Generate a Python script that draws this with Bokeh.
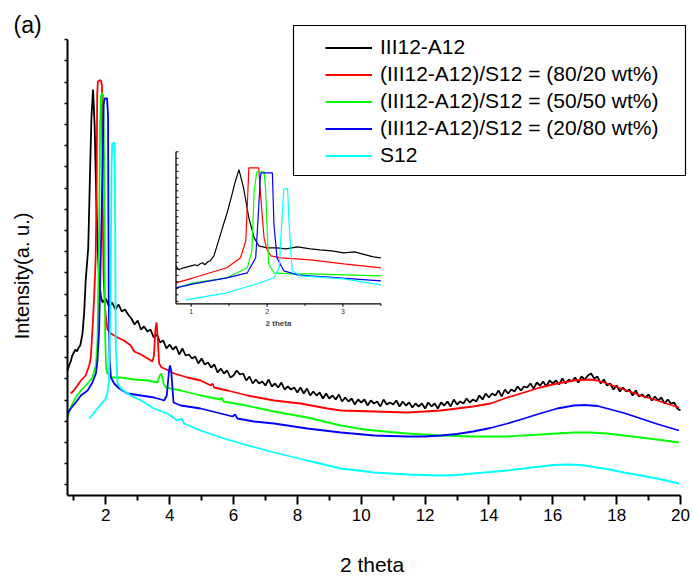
import math
from bokeh.plotting import figure
from bokeh.models import (Range1d, FixedTicker, CustomJSTickFormatter, Legend,
                          LegendItem, BoxAnnotation, Label)
from bokeh.core.properties import value
from bokeh.embed import file_html
from bokeh.resources import INLINE

# ---------------- data (2 theta, intensity a.u.) ----------------
labels = ["III12-A12",
          "(III12-A12)/S12 = (80/20 wt%)",
          "(III12-A12)/S12 = (50/50 wt%)",
          "(III12-A12)/S12 = (20/80 wt%)",
          "S12"]
colors = ["#000000", "#ff0000", "#00ff00", "#0000ff", "#00ffff"]

black_head_x = [0.80, 0.85, 0.90, 0.95, 1.00, 1.05, 1.10, 1.15, 1.20, 1.27, 1.32, 1.37,
                1.45, 1.51, 1.55, 1.60, 1.65, 1.70, 1.75, 1.80, 1.85]
black_head_y = [125, 130, 134, 140, 143, 146, 144, 148, 150, 162, 182, 215,
                248, 328, 378, 406, 370, 298, 245, 212, 198]
black_tail_x = [round(1.9 + 0.1 * i, 1) for i in range(182)]   # scan grid
black_tail_y = [193,
                197, 189, 193, 186, 191, 184, 186, 181, 177, 171,
                175, 166, 169, 164, 166, 158, 161, 153, 155, 147,
                151, 146, 149, 141, 147, 140, 141, 137, 139, 132,
                137, 131, 133, 128, 131, 123, 127, 122, 125, 118,
                120, 125, 121, 122, 115, 119, 112, 116, 112, 114,
                110, 116, 109, 112, 108, 113, 106, 109, 106, 108,
                103, 108, 102, 107, 100, 104, 100, 103, 97, 102,
                97, 100, 96, 101, 94, 98, 94, 97, 91, 96,
                93, 96, 90, 95, 92, 94, 89, 96, 91, 93,
                91, 95, 89, 94, 90, 93, 88, 92, 89, 92,
                87, 93, 89, 92, 87, 93, 90, 94, 89, 96,
                91, 94, 92, 97, 93, 96, 94, 100, 96, 102,
                98, 102, 100, 105, 99, 106, 102, 106, 104, 109,
                105, 109, 108, 112, 107, 113, 110, 114, 109, 115,
                112, 115, 111, 117, 112, 116, 114, 118, 113, 119,
                116, 120, 122, 117, 119, 112, 116, 110, 112, 106,
                110, 104, 108, 104, 106, 100, 105, 99, 101, 98,
                101, 95, 99, 95, 98, 92, 96, 92, 93, 87,
                85]
black_x = black_head_x + black_tail_x
black_y = black_head_y + black_tail_y

red_x = [0.90, 1.00, 1.22, 1.37, 1.48, 1.53, 1.58, 1.63, 1.68, 1.71, 1.73, 1.75, 1.80, 1.85,
         1.88, 1.90, 1.93, 1.97, 2.00, 2.05, 2.16, 2.37, 2.57, 2.78, 2.89, 3.10, 3.31, 3.46,
         3.51, 3.55, 3.59, 3.63, 3.67, 3.75, 3.83, 4.14, 4.56, 4.97, 5.29, 5.34, 5.39, 5.81,
         6.44, 7.27, 8.10, 8.94, 9.36, 9.9, 10.4, 10.9, 11.45, 12.0, 12.49, 13.0, 13.5, 14.05,
         14.58, 15.1, 15.6, 16.14, 16.66, 17.13, 17.4, 17.7, 18.23, 18.75, 19.27, 19.95]
red_y = [102, 105, 115, 120, 130, 138, 165, 195, 235, 300, 400, 414, 415, 415,
         410, 300, 220, 190, 180, 166, 162, 158, 155, 150, 144, 141, 137, 134,
         140, 165, 173, 155, 132, 128, 127, 122, 118, 115, 110, 112, 108, 105,
         100, 95, 92, 87, 85, 84.5, 84, 83.5, 83, 84, 85, 87, 89, 92,
         98, 103, 108, 112, 115, 116, 115, 112, 106, 100, 95, 88]

green_x = [0.80, 0.90, 1.06, 1.22, 1.43, 1.58, 1.69, 1.74, 1.79, 1.82, 1.85, 1.88, 1.92, 1.95,
           1.98, 2.01, 2.05, 2.21, 2.47, 2.89, 3.31, 3.62, 3.69, 3.74, 3.81, 3.88, 4.35, 4.97,
           5.60, 5.63, 5.68, 6.23, 7.27, 8.31, 9.36, 9.9, 10.4, 10.9, 11.45, 12.49, 13.5,
           14.58, 15.6, 16.14, 16.66, 17.18, 17.7, 18.23, 18.75, 19.27, 19.95]
green_y = [78, 88, 98, 105, 112, 118, 130, 155, 260, 370, 400, 402, 401, 330,
           160, 128, 122, 118, 118, 116, 115, 113, 120, 122, 112, 108, 105, 100,
           96, 98, 94, 91, 84, 78, 70, 67, 65, 63.5, 62, 60, 59,
           59, 61, 62, 63, 63, 62, 60, 58, 56, 53]

blue_x = [0.80, 0.90, 1.06, 1.22, 1.43, 1.58, 1.69, 1.74, 1.79, 1.85, 1.90, 1.93, 1.96, 2.04,
          2.07, 2.09, 2.12, 2.16, 2.26, 2.42, 2.68, 3.10, 3.51, 3.83, 3.91, 3.98, 4.01, 4.05,
          4.12, 4.35, 4.97, 5.60, 5.97, 6.05, 6.12, 6.64, 7.27, 8.31, 9.36, 9.9, 10.4, 10.9,
          11.45, 12.0, 12.49, 13.0, 13.5, 14.05, 14.58, 15.1, 15.6, 16.14, 16.66, 17.0, 17.4,
          17.7, 18.23, 18.75, 19.27, 19.95]
blue_y = [82, 87, 93, 100, 105, 113, 122, 135, 165, 250, 328, 390, 397, 397,
          380, 200, 135, 118, 112, 107, 102, 100, 98, 95, 100, 125, 130, 124,
          93, 90, 87, 82, 79, 81, 77, 74, 72, 67, 63, 61.5, 60, 59.5,
          59, 59, 60, 61.5, 64, 67.5, 72, 77, 82, 87, 90, 90.5, 89.5,
          87, 82.5, 77, 71.5, 65]

cyan_x = [1.48, 1.74, 2.00, 2.05, 2.10, 2.15, 2.18, 2.20, 2.27, 2.29, 2.31, 2.37, 2.47, 2.78,
          3.10, 3.51, 3.93, 4.24, 4.37, 4.45, 4.97, 5.60, 6.23, 7.27, 8.31, 9.36, 9.9, 10.4,
          10.9, 11.45, 12.0, 12.49, 13.0, 13.5, 14.05, 14.58, 15.1, 15.6, 16.0, 16.45, 16.9,
          17.18, 17.7, 18.23, 18.75, 19.27, 19.95]
cyan_y = [77, 87, 97, 102, 115, 200, 330, 352, 353, 300, 150, 112, 107, 100,
          95, 87, 82, 75, 77, 72, 65, 58, 52, 43, 35, 27, 25, 23,
          22, 21, 20.5, 20, 20.5, 22, 23.5, 25, 27, 29, 30.5, 31, 30.5,
          29, 26.5, 23, 20, 17, 12]

main_x = [black_x, red_x, green_x, blue_x, cyan_x]
main_y = [black_y, red_y, green_y, blue_y, cyan_y]

# inset (zoom of low-angle region, own intensity scale)
in_black_x = [0.80, 0.83, 0.90, 0.95, 1.00, 1.05, 1.08, 1.12, 1.15, 1.18, 1.22, 1.25, 1.30,
              1.36, 1.42, 1.47, 1.54, 1.58, 1.63, 1.69, 1.76, 1.83, 1.89, 2.00, 2.13, 2.25,
              2.40, 2.57, 2.70, 2.85, 3.01, 3.15, 3.30, 3.40, 3.50]
in_black_y = [38, 34, 36, 37, 38, 39, 38, 40, 41, 39, 42, 43, 48,
              63, 78, 90, 110, 122, 134, 116, 86, 66, 58, 56, 56, 55,
              57, 55, 54, 53, 51, 52, 49, 47, 46]
in_red_x = [0.80, 1.03, 1.47, 1.65, 1.72, 1.74, 1.76, 1.89, 1.91, 1.94, 1.96, 2.00, 2.05,
            2.18, 2.57, 3.01, 3.50]
in_red_y = [21, 26, 36, 46, 63, 100, 136, 136, 113, 85, 66, 54, 48, 46, 44, 40, 36]
in_green_x = [0.80, 1.03, 1.47, 1.74, 1.80, 1.83, 1.86, 1.87, 1.96, 1.98, 1.99, 2.02, 2.09,
              2.30, 2.57, 3.50]
in_green_y = [16, 21, 26, 36, 53, 113, 130, 132, 132, 115, 96, 40, 31, 30, 30, 28]
in_blue_x = [0.80, 1.03, 1.47, 1.74, 1.85, 1.89, 1.91, 1.92, 2.07, 2.09, 2.13, 2.22, 2.40,
             2.57, 3.50]
in_blue_y = [16, 20, 26, 31, 46, 96, 125, 131, 131, 80, 46, 33, 29, 28, 23]
in_cyan_x = [0.93, 1.47, 1.91, 2.09, 2.16, 2.20, 2.22, 2.27, 2.29, 2.33, 2.44, 3.01, 3.50]
in_cyan_y = [4, 11, 21, 26, 36, 90, 115, 115, 80, 33, 28, 25, 19]

inset_x = [in_black_x, in_red_x, in_green_x, in_blue_x, in_cyan_x]
inset_y = [in_black_y, in_red_y, in_green_y, in_blue_y, in_cyan_y]

x_major = [2, 4, 6, 8, 10, 12, 14, 16, 18, 20]
x_minor = [1, 3, 5, 7, 9, 11, 13, 15, 17, 19]
inset_major = [1, 2, 3]
inset_minor = [1.5, 2.5, 3.5]

# ---------------- layout (canvas pixels) ----------------
W, H = 692, 577
AX_L, AX_B = 67, 495          # main axes corner on the canvas
X0, X1 = 0.8, 20.0
X1_PX = 680
PXX = (X1_PX - AX_L) / (X1 - X0)
Y_AXIS_TOP = 456.3            # y axis length (1 unit = 1 px)

IN_L, IN_B = 175.5, 303.3     # inset axes corner
IN_X0, IN_X1, IN_Y1 = 0.8, 3.5, 152.0
IN_PXX = 75.9


def xp(px):
    return X0 + (px - AX_L) / PXX


def yp(py):
    return AX_B - py


def ixp(px):
    return IN_X0 + (px - IN_L) / IN_PXX


def iyp(py):
    return IN_B - py


FONT = "Liberation Sans"

p = figure(width=W, height=H,
           x_range=Range1d(xp(0), xp(W)), y_range=Range1d(yp(H), yp(0)),
           output_backend="svg", toolbar_location=None, min_border=0)
p.grid.visible = False
p.outline_line_color = None
p.background_fill_color = "white"
p.border_fill_color = "white"

# main axes, drawn inside the full-canvas frame at fixed data locations
xa = p.xaxis[0]
xa.fixed_location = 0
xa.ticker = FixedTicker(ticks=x_major, minor_ticks=x_minor)
xa.bounds = (X0, X1)
xa.axis_line_width = 2
xa.axis_line_color = "black"
xa.major_tick_line_width = 2
xa.minor_tick_line_width = 2
xa.major_tick_out = 9
xa.major_tick_in = 0
xa.minor_tick_out = 5
xa.minor_tick_in = 0
xa.major_label_standoff = 4
xa.major_label_text_font = FONT
xa.major_label_text_font_size = "17px"
xa.major_label_text_color = "black"

ya = p.yaxis[0]
ya.fixed_location = X0
ya.ticker = FixedTicker(ticks=[10.6 + 21.2 * k for k in range(22)], minor_ticks=[])
ya.bounds = (0, Y_AXIS_TOP)
ya.formatter = CustomJSTickFormatter(code="return ''")
ya.axis_line_width = 2
ya.axis_line_color = "black"
ya.major_tick_line_width = 1.5
ya.major_tick_out = 3
ya.major_tick_in = 0
ya.minor_tick_out = 0
ya.minor_tick_in = 0

# inset ranges mapped so that the inset box lands at its place in the frame
p.extra_x_ranges = {"ix": Range1d(ixp(0), ixp(W))}
p.extra_y_ranges = {"iy": Range1d(iyp(H), iyp(0))}

# main curves
renderers = []
for xs, ys, c in zip(main_x, main_y, colors):
    r = p.line(xs, ys, line_color=c, line_width=1.8)
    renderers.append(r)

# inset curves
for xs, ys, c in zip(inset_x, inset_y, colors):
    p.line(xs, ys, line_color=c, line_width=1.2, x_range_name="ix", y_range_name="iy")

# inset axes
p.segment(x0=[IN_X0, IN_X0], y0=[0, 0], x1=[IN_X0, IN_X1], y1=[IN_Y1, 0],
          line_color="black", line_width=1.3, x_range_name="ix", y_range_name="iy")
iy_ticks = [IN_Y1 - 6.5 * k for k in range(24)]
p.ray(x=[IN_X0] * len(iy_ticks), y=iy_ticks, length=2.5, angle=0, length_units="screen",
      line_color="black", line_width=1, x_range_name="ix", y_range_name="iy")
p.ray(x=inset_major, y=[0] * 3, length=3, angle=-math.pi / 2, length_units="screen",
      line_color="black", line_width=1, x_range_name="ix", y_range_name="iy")
p.ray(x=inset_minor, y=[0] * 3, length=2, angle=-math.pi / 2, length_units="screen",
      line_color="black", line_width=1, x_range_name="ix", y_range_name="iy")
p.text(x=inset_major, y=[iyp(311)] * 3, text=[str(v) for v in inset_major],
       text_font=value(FONT), text_font_size="7px", text_align="center",
       text_baseline="middle", text_color="#333333", x_range_name="ix", y_range_name="iy")
p.text(x=[ixp(278)], y=[iyp(322.7)], text=["2 theta"], text_font=value(FONT),
       text_font_size="8px", text_font_style="bold", text_align="center",
       text_baseline="middle", text_color="#444444", x_range_name="ix", y_range_name="iy")

# legend box + legend
box = BoxAnnotation(left=xp(293), right=xp(685), top=yp(25), bottom=yp(175),
                    fill_color="white", fill_alpha=1.0, line_color="black",
                    line_width=1.2, line_alpha=1.0)
p.add_layout(box)
legend = Legend(items=[LegendItem(label=l, renderers=[r]) for l, r in zip(labels, renderers)],
                location=(325, H - 168.5), padding=0, spacing=0,
                glyph_width=47, glyph_height=27, label_height=27, label_standoff=8,
                border_line_alpha=0, background_fill_alpha=0,
                label_text_font=FONT, label_text_font_size="21px", label_text_color="black")
p.add_layout(legend)

# free texts
p.add_layout(Label(x=xp(13), y=yp(24.5), text="(a)", text_font=FONT, text_font_size="23px",
                   text_align="left", text_baseline="alphabetic", text_color="black"))
p.add_layout(Label(x=xp(21.5), y=yp(275.5), text="Intensity(a. u.)", angle=math.pi / 2,
                   text_font=FONT, text_font_size="20px", text_align="center",
                   text_baseline="alphabetic", text_color="black"))
p.add_layout(Label(x=xp(371.5), y=yp(563.5), text="2 theta", text_font=FONT,
                   text_font_size="21px", text_align="center", text_baseline="alphabetic",
                   text_color="black"))

open("out.html", "w").write(file_html(p, INLINE))
